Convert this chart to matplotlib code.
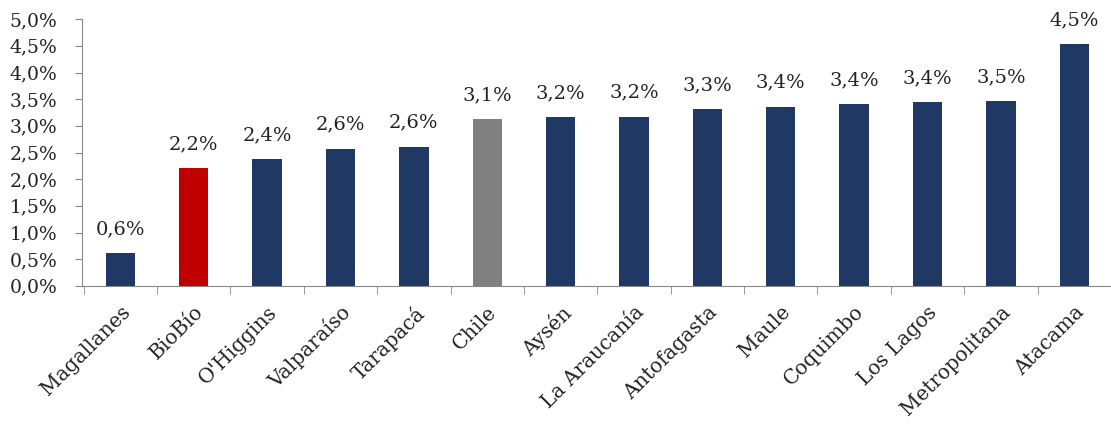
import matplotlib.pyplot as plt
import numpy as np

# regiones y variación (%)
regiones = ['Magallanes', 'BioBío', "O'Higgins", 'Valparaíso', 'Tarapacá', 'Chile',
            'Aysén', 'La Araucanía', 'Antofagasta', 'Maule', 'Coquimbo', 'Los Lagos',
            'Metropolitana', 'Atacama']
valores = [0.61, 2.21, 2.38, 2.57, 2.61, 3.13, 3.16, 3.17, 3.31, 3.36, 3.41, 3.44, 3.46, 4.53]
etiquetas = ['0,6%', '2,2%', '2,4%', '2,6%', '2,6%', '3,1%', '3,2%', '3,2%', '3,3%',
             '3,4%', '3,4%', '3,4%', '3,5%', '4,5%']

azul = '#1F3864'
colores = [azul] * len(regiones)
colores[regiones.index('BioBío')] = '#C00000'
colores[regiones.index('Chile')] = '#808080'

plt.rcParams['font.family'] = ['DejaVu Serif']

fig = plt.figure(figsize=(11.11, 4.26), dpi=100)
ax = fig.add_axes([0.074, 0.329, 0.926, 0.626])

x = np.arange(len(regiones))
ax.bar(x, valores, width=0.4, color=colores, zorder=2)

for xi, v, t in zip(x, valores, etiquetas):
    ax.text(xi, v + 0.28, t, ha='center', va='bottom', fontsize=14, color='#222222')

ax.set_ylim(0, 5)
ax.set_xlim(-0.52, 13.5)
ax.set_yticks(np.arange(0, 5.01, 0.5))
ax.set_yticklabels([f'{v:.1f}%'.replace('.', ',') for v in np.arange(0, 5.01, 0.5)],
                   fontsize=13.5, color='#222222')

ax.set_xticks(x)
ax.set_xticklabels(regiones, rotation=45, ha='right', rotation_mode='anchor',
                   fontsize=14.5, color='#222222')
ax.tick_params(axis='x', which='major', length=0, pad=12)
ax.set_xticks(np.arange(-0.5, len(regiones), 1), minor=True)
ax.tick_params(axis='x', which='minor', length=6, color='#888888', direction='out')
ax.tick_params(axis='y', length=5, color='#888888', direction='out', pad=13)

for s in ['top', 'right']:
    ax.spines[s].set_visible(False)
for s in ['left', 'bottom']:
    ax.spines[s].set_color('#888888')

plt.savefig('out.png', dpi=100)
